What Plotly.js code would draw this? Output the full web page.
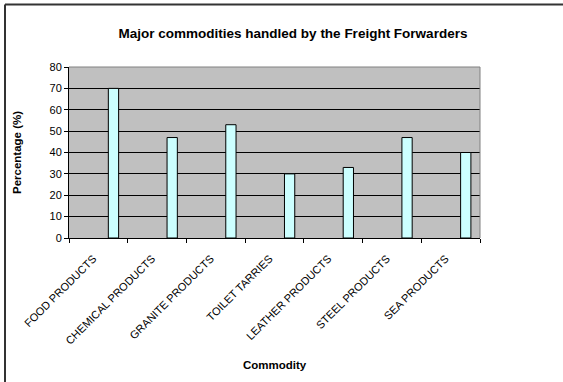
<!DOCTYPE html>
<html>
<head>
<meta charset="utf-8">
<script src="https://cdn.plot.ly/plotly-3.0.1.min.js"></script>
<style>
html,body{margin:0;padding:0;background:#fff;}
#chart{width:563px;height:382px;}
</style>
</head>
<body>
<div id="chart"></div>
<script>
const categories = ["FOOD PRODUCTS", "CHEMICAL PRODUCTS", "GRANITE PRODUCTS", "TOILET TARRIES", "LEATHER PRODUCTS", "STEEL PRODUCTS", "SEA PRODUCTS"];
const percentages = [70, 47, 53, 30, 33, 47, 40];
const yTicks = [0, 10, 20, 30, 40, 50, 60, 70, 80];

const W = 563, H = 382;
const M = {l: 69, r: 83, t: 67, b: 144};
const pw = W - M.l - M.r, ph = H - M.t - M.b;
const px = x => (x - M.l) / pw;
const py = y => (H - M.b - y) / ph;

const trace = {
  type: 'bar',
  x: categories,
  y: percentages,
  width: 0.175,
  offset: 0.17,
  marker: {color: '#CCFFFF', line: {color: '#000000', width: 1}},
  hoverinfo: 'x+y'
};

const layout = {
  width: W, height: H,
  margin: M,
  paper_bgcolor: '#ffffff',
  plot_bgcolor: '#C0C0C0',
  showlegend: false,
  font: {family: 'Liberation Sans, Arial, sans-serif', color: '#000', size: 11},
  title: {
    text: '<b>Major commodities handled by the Freight Forwarders</b>',
    font: {size: 13.5, color: '#000'},
    x: px(293), xref: 'paper', xanchor: 'center',
    y: 1 - 33 / H, yref: 'container', yanchor: 'middle'
  },
  xaxis: {
    type: 'category',
    range: [-0.5, categories.length - 0.5],
    tickson: 'boundaries',
    ticks: 'outside', ticklen: 4, tickcolor: '#000', tickwidth: 1,
    tickangle: -45,
    tickfont: {size: 11},
    ticklabelstandoff: 9,
    ticklabelshift: -5,
    showline: true, linecolor: '#000', linewidth: 1,
    showgrid: false, zeroline: false,
    title: {text: '<b>Commodity</b>', font: {size: 11.5}, standoff: 15}
  },
  yaxis: {
    range: [0, 80],
    tickvals: yTicks,
    ticks: 'outside', ticklen: 4, tickcolor: '#000', tickwidth: 1,
    tickfont: {size: 11},
    showline: true, linecolor: '#000', linewidth: 1,
    showgrid: true, gridcolor: '#000', gridwidth: 1,
    zeroline: false,
    title: {text: '<b>Percentage (%)</b>', font: {size: 11.5}, standoff: 25}
  },
  shapes: [
    {type: 'line', xref: 'paper', yref: 'paper', x0: 1, x1: 1, y0: 0, y1: 1, line: {color: '#808080', width: 1}},
    {type: 'line', xref: 'paper', yref: 'paper', x0: 0, x1: 1, y0: 1, y1: 1, line: {color: '#808080', width: 1}},
    {type: 'line', xref: 'paper', yref: 'paper', x0: px(5), x1: px(W + 5), y0: py(4.5), y1: py(4.5), line: {color: '#333', width: 2}},
    {type: 'line', xref: 'paper', yref: 'paper', x0: px(5), x1: px(5), y0: py(4.5), y1: py(H + 5), line: {color: '#333', width: 2}}
  ]
};

Plotly.newPlot('chart', [trace], layout, {displayModeBar: false, staticPlot: true});
</script>
</body>
</html>
